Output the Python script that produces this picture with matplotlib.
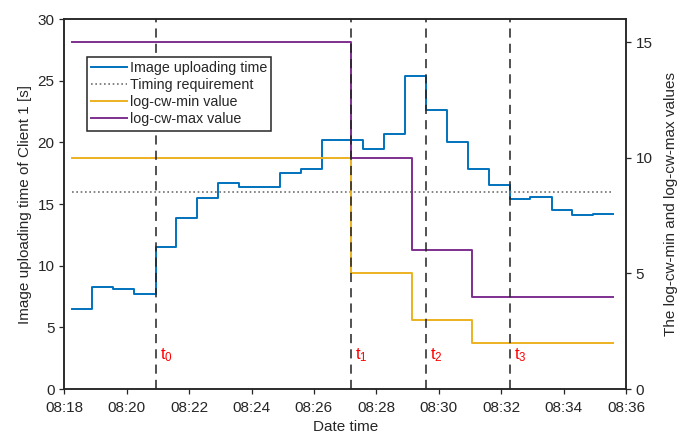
import pandas as pd
import matplotlib
matplotlib.use("Agg")
import matplotlib.pyplot as plt
import matplotlib.dates as mdates

plt.rcParams['font.family'] = ['Liberation Sans', 'DejaVu Sans']

DAY = "2021-01-01 "

# image uploading time of client 1 (step starts, last entry is the end)
upload_times = ["08:18:15", "08:18:53", "08:19:34", "08:20:14", "08:20:56", "08:21:35",
                "08:22:15", "08:22:56", "08:23:36", "08:24:55", "08:25:35", "08:26:16",
                "08:27:34", "08:28:15", "08:28:55", "08:29:36", "08:30:16", "08:30:56",
                "08:31:37", "08:32:17", "08:32:56", "08:33:38", "08:34:16", "08:34:57",
                "08:35:35"]
upload_values = [6.5, 8.25, 8.1, 7.7, 11.5, 13.85, 15.5, 16.7, 16.4, 17.5, 17.8, 20.2,
                 19.5, 20.7, 25.4, 22.6, 20.0, 17.8, 16.55, 15.4, 15.55, 14.5, 14.1, 14.2,
                 14.2]

timing_requirement = 16

# contention window parameters
cw_times = ["08:18:15", "08:27:11", "08:29:08", "08:31:03", "08:35:35"]
cw_min = [10, 5, 3, 2, 2]
cw_max = [15, 10, 6, 4, 4]

event_times = ["08:20:56", "08:27:11", "08:29:36", "08:32:17"]
event_labels = [r"$\mathregular{t_0}$", r"$\mathregular{t_1}$",
                r"$\mathregular{t_2}$", r"$\mathregular{t_3}$"]

to_dt = lambda ts: pd.to_datetime([DAY + t for t in ts])
up_t = to_dt(upload_times)
cw_t = to_dt(cw_times)
ev_t = to_dt(event_times)

blue = "#0072BD"
yellow = "#EDB120"
purple = "#7E2F8E"
axcol = "#262626"

fig = plt.figure(figsize=(6.86, 4.37), dpi=100)
ax = fig.add_axes([0.0937, 0.1098, 0.8188, 0.8467])
ax2 = ax.twinx()

l1, = ax.plot(up_t, upload_values, drawstyle="steps-post", color=blue, lw=1.4,
              label="Image uploading time")
l2, = ax.plot([up_t[0], up_t[-1]], [timing_requirement] * 2, color="#707070",
              lw=1.2, linestyle=(0, (1, 1.6)), label="Timing requirement")
l3, = ax2.plot(cw_t, cw_min, drawstyle="steps-post", color=yellow, lw=1.4,
               label="log-cw-min value")
l4, = ax2.plot(cw_t, cw_max, drawstyle="steps-post", color=purple, lw=1.4,
               label="log-cw-max value")

for t, lab in zip(ev_t, event_labels):
    ax2.axvline(t, color="#222222", lw=1.1, linestyle=(0, (6, 4)))
    ax2.annotate(lab, (mdates.date2num(t), 0.092), xycoords=("data", "axes fraction"),
                 xytext=(3, 0), textcoords="offset points",
                 color="red", fontsize=12, va="center", ha="left")

ax.set_xlim(pd.Timestamp(DAY + "08:18:00"), pd.Timestamp(DAY + "08:36:00"))
ax.xaxis.set_major_locator(mdates.MinuteLocator(byminute=range(0, 60, 2)))
ax.xaxis.set_major_formatter(mdates.DateFormatter("%H:%M"))
ax.set_ylim(0, 30)
ax.set_yticks(range(0, 31, 5))
ax2.set_ylim(0, 16)
ax2.set_yticks([0, 5, 10, 15])

for a in (ax, ax2):
    a.tick_params(direction="out", length=3.5, width=0.9, colors=axcol, labelsize=11)
    for s in a.spines.values():
        s.set_color(axcol)
        s.set_linewidth(1.1)
ax.tick_params(axis="x", pad=5)

ax.set_xlabel("Date time", fontsize=11, color=axcol, labelpad=4)
ax.set_ylabel("Image uploading time of Client 1 [s]", fontsize=11, color=axcol, labelpad=4)
ax2.set_ylabel("The log-cw-min and log-cw-max values", fontsize=11, color=axcol, labelpad=8)

leg = ax2.legend(handles=[l1, l2, l3, l4], loc="upper left",
                 bbox_to_anchor=(0.040, 0.898), borderaxespad=0, fontsize=10.3,
                 handlelength=2.5, handletextpad=0.2, labelspacing=0.22,
                 borderpad=0.3, fancybox=False, framealpha=1)
leg.get_frame().set_edgecolor(axcol)
leg.get_frame().set_linewidth(1.1)
for txt in leg.get_texts():
    txt.set_color(axcol)

fig.savefig("out.png", dpi=100)
